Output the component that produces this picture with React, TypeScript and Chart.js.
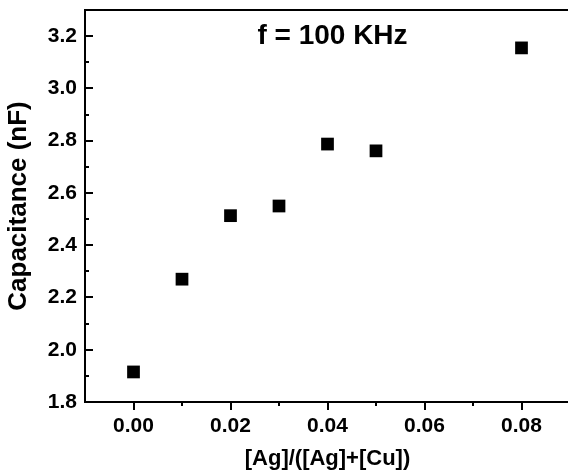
import { useEffect, useRef } from "react";
import { Chart, registerables } from "chart.js";

Chart.register(...registerables);

const ratios = [0, 0.01, 0.02, 0.03, 0.04, 0.05, 0.08];
const capacitance = [1.915, 2.27, 2.513, 2.55, 2.787, 2.761, 3.155];
const xTicks = [0, 0.02, 0.04, 0.06, 0.08];
const xMinorTicks = [0.01, 0.03, 0.05, 0.07];
const yTicks = [1.8, 2.0, 2.2, 2.4, 2.6, 2.8, 3.0, 3.2];
const yMinorTicks = [1.9, 2.1, 2.3, 2.5, 2.7, 2.9, 3.1];
const annotation = "f = 100 KHz";
const xTitle = "[Ag]/([Ag]+[Cu])";
const yTitle = "Capacitance (nF)";

const FONT = '"Liberation Sans", Arial, Helvetica, sans-serif';

const framePlugin = {
  id: "frame",
  afterDraw(chart: any) {
    const { ctx, chartArea: a, scales } = chart;
    const x = scales.x;
    const y = scales.y;
    ctx.save();
    ctx.strokeStyle = "#000";
    ctx.lineWidth = 2;
    ctx.beginPath();
    ctx.rect(a.left, a.top, a.right - a.left, a.bottom - a.top);
    ctx.stroke();
    ctx.beginPath();
    xTicks.forEach((v) => {
      const px = Math.round(x.getPixelForValue(v));
      ctx.moveTo(px, a.bottom);
      ctx.lineTo(px, a.bottom + 8);
    });
    xMinorTicks.forEach((v) => {
      const px = Math.round(x.getPixelForValue(v));
      ctx.moveTo(px, a.bottom);
      ctx.lineTo(px, a.bottom + 4);
    });
    yTicks.forEach((v) => {
      const py = Math.round(y.getPixelForValue(v));
      ctx.moveTo(a.left, py);
      ctx.lineTo(a.left + 8, py);
    });
    yMinorTicks.forEach((v) => {
      const py = Math.round(y.getPixelForValue(v));
      ctx.moveTo(a.left, py);
      ctx.lineTo(a.left + 4, py);
    });
    ctx.stroke();
    ctx.fillStyle = "#000";
    ctx.font = `bold 28px ${FONT}`;
    ctx.textAlign = "center";
    ctx.textBaseline = "middle";
    ctx.fillText(annotation, (a.left + a.right) / 2 + 5, a.top + 26);
    ctx.restore();
  },
};

export default function App() {
  const ref = useRef<HTMLCanvasElement | null>(null);
  useEffect(() => {
    if (!ref.current) return;
    const chart = new Chart(ref.current, {
      type: "scatter",
      data: {
        datasets: [
          {
            data: ratios.map((r, i) => ({ x: r, y: capacitance[i] })),
            pointStyle: "rect",
            pointRadius: 9,
            pointHoverRadius: 9,
            backgroundColor: "#000",
            borderColor: "#000",
            borderWidth: 0,
          },
        ],
      },
      options: {
        responsive: false,
        animation: false,
        devicePixelRatio: 1,
        layout: { autoPadding: false, padding: { top: 10, right: 2, left: 0, bottom: 0 } },
        plugins: {
          legend: { display: false },
          tooltip: { enabled: false },
        },
        scales: {
          x: {
            type: "linear",
            min: -0.01,
            max: 0.09,
            grid: { display: false, drawTicks: false },
            border: { display: false },
            afterBuildTicks: (s: any) => {
              s.ticks = xTicks.map((v) => ({ value: v }));
            },
            afterFit: (s: any) => {
              s.height = 70;
              s.paddingLeft = 0;
              s.paddingRight = 0;
            },
            ticks: {
              padding: 12,
              color: "#000",
              font: { family: FONT, size: 21, weight: "bold" },
              callback: (v: any) => Number(v).toFixed(2),
            },
            title: {
              display: true,
              text: xTitle,
              color: "#000",
              font: { family: FONT, size: 22, weight: "bold" },
              padding: { top: 1, bottom: 0 },
            },
          },
          y: {
            type: "linear",
            min: 1.8,
            max: 3.3,
            grid: { display: false, drawTicks: false },
            border: { display: false },
            afterBuildTicks: (s: any) => {
              s.ticks = yTicks.map((v) => ({ value: v }));
            },
            afterFit: (s: any) => {
              s.width = 85;
              s.paddingTop = 0;
              s.paddingBottom = 0;
            },
            ticks: {
              padding: 8,
              color: "#000",
              font: { family: FONT, size: 21, weight: "bold" },
              callback: (v: any) => Number(v).toFixed(1),
            },
            title: {
              display: true,
              text: yTitle,
              color: "#000",
              font: { family: FONT, size: 26, weight: "bold" },
              padding: { top: 3, bottom: 0 },
            },
          },
        },
      },
      plugins: [framePlugin],
    });
    return () => chart.destroy();
  }, []);
  return (
    <div
      style={{
        position: "absolute",
        left: 0,
        top: 0,
        width: 568,
        height: 472,
        overflow: "hidden",
        background: "#fff",
      }}
    >
      <canvas ref={ref} width={572} height={472} />
    </div>
  );
}
